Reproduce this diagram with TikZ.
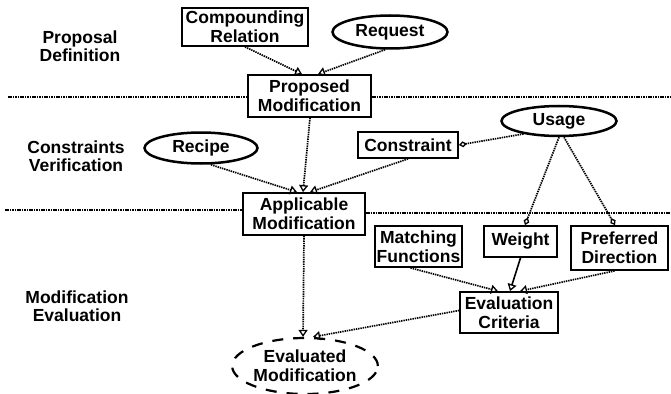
\documentclass[tikz,border=0pt]{standalone}
\usepackage{fontspec}
\setmainfont{Liberation Sans}
\usetikzlibrary{arrows.meta,shapes.geometric}
\begin{document}
\begin{tikzpicture}[x=1pt,y=-1pt,
  every node/.style={font=\fontsize{17.5}{19}\selectfont\bfseries, align=center, inner sep=0pt},
  lbl/.style={font=\fontsize{17.5}{17.5}\selectfont\bfseries},
  box/.style={draw, line width=1.8pt},
  ell/.style={ellipse, draw, line width=2.5pt},
  dots/.style={line width=1.7pt, dash pattern=on 1.4pt off 0.9pt},
  sep/.style={line width=2.8pt, dash pattern=on 1.6pt off 0.8pt},
  tri/.style={dots, -{Triangle[open, length=7pt, width=9pt, line width=1.3pt]}},
  dia/.style={dots, -{Diamond[open, length=8pt, width=6pt, line width=1.3pt]}}]
\useasboundingbox (0,0) rectangle (671,393);

% section labels
\node[lbl] (lab1) at (80,46) {Proposal\\Definition};
\node[lbl] (lab2) at (76,156) {Constraints\\Verification};
\node[lbl] (lab3) at (77,306) {Modification\\Evaluation};

% nodes
\node[box, minimum width=126pt, minimum height=38pt] (cr) at (245,27) {Compounding\\Relation};
\node[ell, minimum width=115pt, minimum height=33pt] (req) at (390,32) {Request};
\node[box, minimum width=123pt, minimum height=42pt] (pm) at (309.5,96) {Proposed\\Modification};
\node[ell, minimum width=113pt, minimum height=31pt] (rec) at (201,148) {Recipe};
\node[box, minimum width=100pt, minimum height=26pt] (con) at (408,145) {Constraint};
\node[ell, minimum width=115pt, minimum height=30pt] (use) at (559,121) {Usage};
\node[box, minimum width=122pt, minimum height=42pt] (am) at (304,214) {Applicable\\Modification};
\node[box, minimum width=87pt, minimum height=41pt] (mf) at (418.5,246.5) {Matching\\Functions};
\node[box, minimum width=73pt, minimum height=31pt] (wt) at (520.5,241.5) {Weight};
\node[box, minimum width=97pt, minimum height=44pt] (pd) at (619.5,248) {Preferred\\Direction};
\node[box, minimum width=98pt, minimum height=41pt] (ec) at (509,312.5) {Evaluation\\Criteria};
\node[ellipse, draw, line width=2.2pt, dash pattern=on 11pt off 10pt, minimum width=128pt, minimum height=56pt] (em) at (305,366) {Evaluated\\Modification};

% separator lines
\coordinate (s1l) at (8,97);
\coordinate (s1r) at (671,97);
\coordinate (s2l) at (5,210);
\coordinate (s2r) at (671,213);
\draw[sep] (s1l) -- (s1l -| pm.west);
\draw[sep] (s1r -| pm.east) -- (s1r);
\draw[sep] (s2l) -- (s2l -| am.west);
\draw[sep] (s2r -| am.east) -- (s2r);

% connectors
\draw[tri] (cr.south) -- ([xshift=-7.5pt]pm.north);
\draw[tri] ([xshift=-5pt]req.south) -- ([xshift=8.5pt]pm.north);
\draw[tri] ([xshift=0.5pt]pm.south) -- ([xshift=-1pt]am.north);
\draw[tri] ([xshift=10pt]rec.south) -- ([xshift=-7pt]am.north);
\draw[tri] (con.south) -- ([xshift=6pt]am.north);
\draw[dia] (use.200) -- (con.east);
\draw[dia] (use.south) -- ([xshift=4.5pt]wt.north);
\draw[dia] ([xshift=5pt]use.south) -- ([xshift=-4.5pt]pd.north);
\draw[tri] ([xshift=-8pt]mf.south) -- ([xshift=-11pt]ec.north);
\draw[line width=1.6pt, -{Triangle[open, length=7pt, width=9pt, line width=1.3pt]}] (wt.south) -- ([xshift=1pt]ec.north);
\draw[tri] ([xshift=-5pt]pd.south) -- ([xshift=11pt]ec.north);
\draw[tri] (am.south) -- ([xshift=-2pt]em.north);
\draw[tri] ([yshift=2pt]ec.west) -- ([xshift=8pt]em.north);
\end{tikzpicture}
\end{document}
